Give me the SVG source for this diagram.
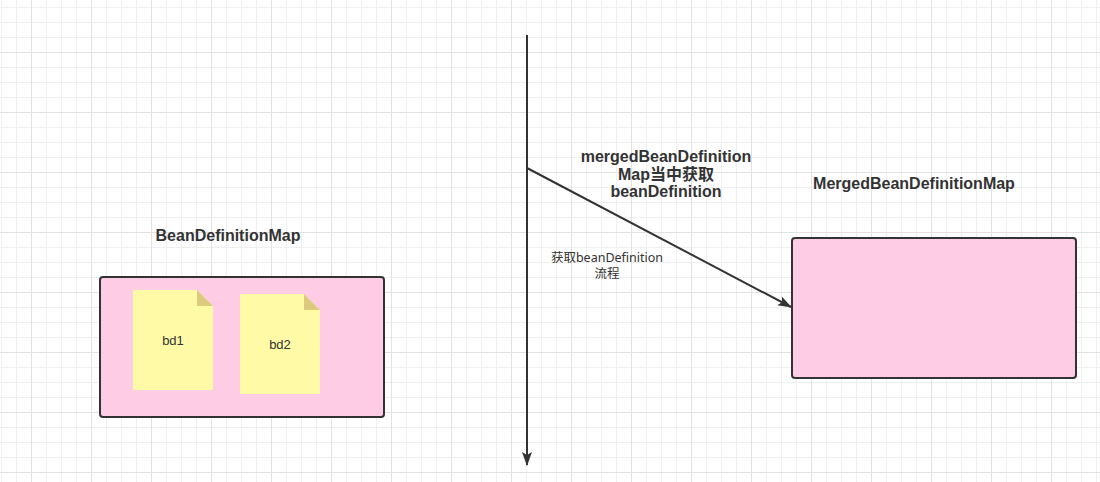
<svg xmlns="http://www.w3.org/2000/svg" width="1100" height="482" viewBox="0 0 1100 482">
<style>
.box{fill:#ffcce6;stroke:#333333;stroke-width:2}
.note{fill:#fffaa6}
.fold{fill:#dccb7f}
.t{font-family:"Liberation Sans","Noto Sans CJK SC",sans-serif;fill:#333333;text-anchor:middle}
.b{font-weight:bold;font-size:16px}
.s{font-size:13px}
.e{font-family:"Noto Sans","Noto Sans CJK SC",sans-serif;font-size:12.5px}
.edge{stroke:#333333;stroke-width:2;fill:none}
</style>
<defs>
<pattern id="grid" x="31" y="52" width="60" height="60" patternUnits="userSpaceOnUse">
<path d="M15.5 0V60M30.5 0V60M45.5 0V60M0 15.5H60M0 30.5H60M0 45.5H60" stroke="#efefef" stroke-width="1" fill="none"/>
<path d="M0.5 0V60M0 0.5H60" stroke="#e2e2e2" stroke-width="1" fill="none"/>
</pattern>
<marker id="arr" viewBox="0 0 14 10" refX="13" refY="5" markerWidth="14" markerHeight="10" markerUnits="userSpaceOnUse" orient="auto">
<path d="M0,0 L14,5 L0,10 L3,5 z" fill="#333333"/>
</marker>
</defs>
<rect width="1100" height="482" fill="#ffffff"/>
<rect width="1100" height="482" fill="url(#grid)"/>
<g id="connectors">
<line class="edge" x1="527" y1="35" x2="527" y2="465" marker-end="url(#arr)"/>
<line class="edge" x1="527" y1="168" x2="791" y2="307" marker-end="url(#arr)"/>
</g>
<g id="beanDefinitionMap">
<rect class="box" x="100" y="277" width="284" height="140" rx="3"/>
<text class="t b" x="228" y="241">BeanDefinitionMap</text>
</g>
<g id="bd1">
<path class="note" d="M133 290H197L213 306V390H133Z"/>
<path class="fold" d="M197 290L213 306H197Z"/>
<text class="t s" x="173" y="345">bd1</text>
</g>
<g id="bd2">
<path class="note" d="M240 294H304L320 310V394H240Z"/>
<path class="fold" d="M304 294L320 310H304Z"/>
<text class="t s" x="280" y="349">bd2</text>
</g>
<g id="mergedBeanDefinitionMap">
<rect class="box" x="792" y="238" width="284" height="140" rx="3"/>
<text class="t b" x="914" y="189">MergedBeanDefinitionMap</text>
</g>
<g id="label-merged">
<text class="t b" x="666" y="162">mergedBeanDefinition</text>
<text class="t b" x="666" y="179.5">Map当中获取</text>
<text class="t b" x="666" y="197">beanDefinition</text>
</g>
<g id="label-flow">
<text class="t e" x="607" y="262">获取beanDefinition</text>
<text class="t e" x="607" y="278">流程</text>
</g>
</svg>
